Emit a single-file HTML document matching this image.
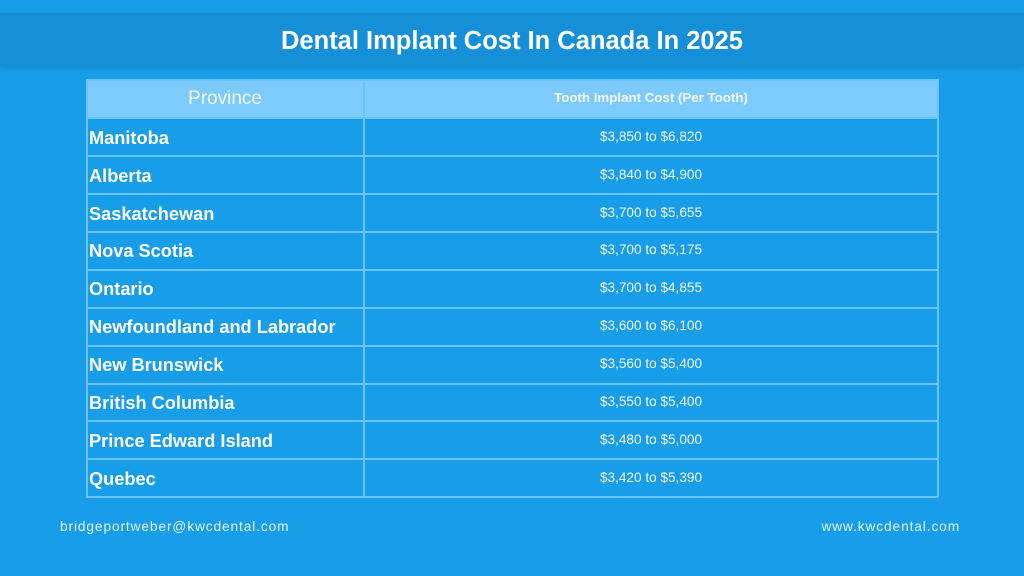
<!DOCTYPE html>
<html>
<head>
<meta charset="utf-8">
<style>
  html,body{margin:0;padding:0;}
  body{width:1024px;height:576px;position:relative;overflow:hidden;background:#189de8;font-family:"Liberation Sans",sans-serif;}
  .band{position:absolute;left:0;top:13px;width:1024px;height:53px;background:#158fd7;box-shadow:0 2px 4px rgba(10,90,150,0.25);}
  .title{position:absolute;left:0;top:15px;width:1024px;height:53px;line-height:53px;text-align:center;color:#fff;font-weight:bold;font-size:25.5px;}
  .hdr{position:absolute;top:79px;height:38px;background:#7ccbfc;}
  .prov{position:absolute;left:89px;color:#fff;font-weight:bold;font-size:18.2px;line-height:38px;white-space:nowrap;}
  .val{position:absolute;left:364px;width:574px;text-align:center;color:#f2f9ff;font-size:13.6px;line-height:38px;white-space:nowrap;}
  .hline{position:absolute;left:86px;width:852px;height:1.5px;background:#6ac4f7;}
  .vline{position:absolute;top:79px;width:1.5px;height:418px;background:#6ac4f7;}
  .foot{position:absolute;top:519px;color:#e3f3ff;font-size:13.7px;letter-spacing:0.9px;white-space:nowrap;}
</style>
</head>
<body>
<div class="band"></div>
<div class="title">Dental Implant Cost In Canada In 2025</div>

<div class="hdr" style="left:86px;width:852px;"></div>
<div style="position:absolute;left:86px;top:80px;width:278px;height:38px;line-height:38px;text-align:center;color:#f4faff;font-size:19px;">Province</div>
<div style="position:absolute;left:364px;top:79px;width:574px;height:38px;line-height:38px;text-align:center;color:#f4faff;font-size:13.3px;font-weight:bold;">Tooth Implant Cost (Per Tooth)</div>

<!-- rows -->
<div class="prov" style="top:119px;">Manitoba</div>
<div class="val" style="top:118px;">$3,850 to $6,820</div>
<div class="prov" style="top:157px;">Alberta</div>
<div class="val" style="top:156px;">$3,840 to $4,900</div>
<div class="prov" style="top:195px;">Saskatchewan</div>
<div class="val" style="top:194px;">$3,700 to $5,655</div>
<div class="prov" style="top:232px;">Nova Scotia</div>
<div class="val" style="top:231px;">$3,700 to $5,175</div>
<div class="prov" style="top:270px;">Ontario</div>
<div class="val" style="top:269px;">$3,700 to $4,855</div>
<div class="prov" style="top:308px;">Newfoundland and Labrador</div>
<div class="val" style="top:307px;">$3,600 to $6,100</div>
<div class="prov" style="top:346px;">New Brunswick</div>
<div class="val" style="top:345px;">$3,560 to $5,400</div>
<div class="prov" style="top:384px;">British Columbia</div>
<div class="val" style="top:383px;">$3,550 to $5,400</div>
<div class="prov" style="top:422px;">Prince Edward Island</div>
<div class="val" style="top:421px;">$3,480 to $5,000</div>
<div class="prov" style="top:460px;">Quebec</div>
<div class="val" style="top:459px;">$3,420 to $5,390</div>

<!-- grid lines -->
<div class="hline" style="top:79px;"></div>
<div class="hline" style="top:117px;"></div>
<div class="hline" style="top:155px;"></div>
<div class="hline" style="top:193px;"></div>
<div class="hline" style="top:231px;"></div>
<div class="hline" style="top:269px;"></div>
<div class="hline" style="top:307px;"></div>
<div class="hline" style="top:345px;"></div>
<div class="hline" style="top:383px;"></div>
<div class="hline" style="top:420px;"></div>
<div class="hline" style="top:458px;"></div>
<div class="hline" style="top:496px;"></div>
<div class="vline" style="left:86px;"></div>
<div class="vline" style="left:363px;"></div>
<div class="vline" style="left:937px;"></div>

<div class="foot" style="left:60px;">bridgeportweber@kwcdental.com</div>
<div class="foot" style="right:64px;">www.kwcdental.com</div>
</body>
</html>
